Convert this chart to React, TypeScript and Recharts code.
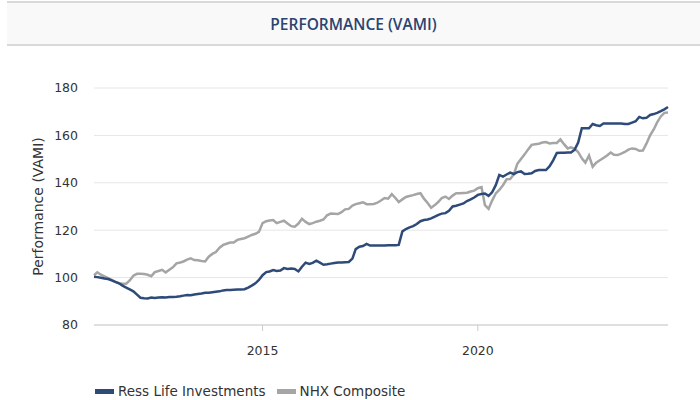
import { CartesianGrid, Line, LineChart, XAxis, YAxis } from "recharts";

// monthly closes, first point Feb 2011
const START_YEAR = 2011;
const START_MONTH = 1; // 0-based (Feb)

const ressLife = [
  // 2011 (Feb-Dec)
  100.4, 100.2, 99.9, 99.6, 99.4, 98.8, 98.2, 97.6, 96.6, 95.8, 95,
  // 2012
  94.2, 92.8, 91.5, 91.3, 91.2, 91.6, 91.4, 91.6, 91.7, 91.6, 91.8, 91.8,
  // 2013
  91.9, 92.1, 92.4, 92.7, 92.6, 92.9, 93.1, 93.3, 93.6, 93.6, 93.8, 94,
  // 2014
  94.2, 94.6, 94.8, 94.8, 94.9, 95, 95, 95.1, 95.8, 96.6, 97.6, 99,
  // 2015
  101, 102.3, 102.6, 103.2, 102.8, 103, 104, 103.6, 103.8, 103.6, 102.6, 104.6,
  // 2016
  106.3, 105.8, 106.2, 107.1, 106.3, 105.4, 105.6, 105.9, 106.2, 106.4, 106.4, 106.5,
  // 2017
  106.6, 108, 112, 113, 113.3, 114.2, 113.5, 113.5, 113.5, 113.5, 113.5, 113.6,
  // 2018
  113.6, 113.7, 113.8, 119.5, 120.5, 121.2, 121.7, 122.6, 123.8, 124.3, 124.5, 125,
  // 2019
  125.7, 126.5, 127, 127.2, 128.2, 130, 130.3, 130.8, 131.3, 132.3, 133, 133.8,
  // 2020
  134.9, 135.3, 135.5, 134.5, 136, 139, 143.3, 142.6, 143.5, 144.3, 143.7, 144.5,
  // 2021
  144.8, 143.7, 143.8, 144, 145, 145.4, 145.4, 145.4, 147, 149.5, 152.6, 152.7,
  // 2022
  152.7, 152.8, 152.8, 154, 157, 163, 163, 163, 164.8, 164.3, 164, 165,
  // 2023
  165, 165, 165, 165, 165, 164.8, 164.8, 165.4, 166, 167.8, 167.2, 167.4,
  // 2024 (Jan-Jun)
  168.6, 169, 169.5, 170.2, 171, 172,
];

const nhxComposite = [
  // 2011 (Feb-Dec)
  101, 102.2, 101.2, 100.5, 99.8, 99, 98.2, 97.6, 97.4, 97.4, 98.8,
  // 2012
  100.8, 101.6, 101.6, 101.5, 101.2, 100.6, 102.3, 102.8, 103.3, 102.2, 103.3, 104.3,
  // 2013
  106, 106.4, 106.8, 107.6, 108.1, 107.4, 107.3, 107, 106.8, 108.8, 110, 110.8,
  // 2014
  112.6, 113.8, 114.3, 114.8, 114.8, 115.9, 116.3, 116.6, 117.3, 118, 118.5, 119.3,
  // 2015
  123, 123.8, 124.1, 124.3, 123, 123.5, 124, 122.8, 121.7, 121.5, 122.8, 124.8,
  // 2016
  123.5, 122.6, 123, 123.6, 124, 124.5, 126.3, 127, 126.9, 126.8, 127.6, 128.8,
  // 2017
  129, 130.4, 131, 131.4, 131.8, 131, 131, 131.1, 131.6, 132.5, 133.6, 133.3,
  // 2018
  135.2, 133.6, 131.9, 133, 134, 134.4, 134.8, 135.3, 135.6, 133.3, 131.5, 129.5,
  // 2019
  130.6, 132, 133.6, 134.2, 133.2, 134.6, 135.6, 135.6, 135.7, 135.8, 136.3, 136.7,
  // 2020
  137.7, 138.2, 130.6, 129, 132.5, 135.5, 137, 139, 141.5, 141.6, 143.5, 148,
  // 2021
  150, 152, 154, 156, 156.3, 156.5, 157, 157.2, 156.6, 156.8, 156.8, 158.3,
  // 2022
  156.3, 154.5, 155, 154.3, 153, 150.3, 148.5, 151.5, 146.8, 148.5, 149.5, 150.5,
  // 2023
  151.5, 152.8, 151.8, 151.7, 152.3, 153, 154, 154.5, 154.3, 153.5, 153.6, 156.5,
  // 2024 (Jan-Jun)
  160, 162.5, 165.5, 168, 169.5, 169.7,
];

const yTicks = [80, 100, 120, 140, 160, 180];
const xTickYears = [2015, 2020];

const RESS = "#2e4a78";
const NHX = "#a5a5a5";

const data = ressLife.map((v, i) => ({
  t: Date.UTC(START_YEAR, START_MONTH + i, 1),
  ress: v,
  nhx: nhxComposite[i],
}));

const font = "'DejaVu Sans', Verdana, sans-serif";

export default function App() {
  return (
    <div
      style={{
        position: "absolute",
        left: 0,
        top: 0,
        width: 700,
        height: 400,
        background: "#fff",
        fontFamily: font,
      }}
    >
      <div
        style={{
          position: "absolute",
          left: 7,
          top: 1,
          width: 693,
          height: 41,
          background: "#f9f9f9",
          borderTop: "2px solid #d9d9d9",
          borderBottom: "2px solid #d9d9d9",
          display: "flex",
          alignItems: "center",
          justifyContent: "center",
          fontFamily: "'Open Sans', sans-serif",
          fontWeight: 600,
          fontSize: 15.5,
          color: "#2b4470",
        }}
      >
        PERFORMANCE (VAMI)
      </div>
      <div style={{ position: "absolute", left: 0, top: 0 }}>
        <LineChart
          width={700}
          height={400}
          data={data}
          margin={{ top: 88, right: 32, bottom: 45, left: 34 }}
        >
          <CartesianGrid vertical={false} stroke="#e6e6e6" />
          <XAxis
            dataKey="t"
            type="number"
            domain={["dataMin", "dataMax"]}
            ticks={xTickYears.map((y) => Date.UTC(y, 0, 1))}
            tickFormatter={(v) => String(new Date(v).getUTCFullYear())}
            height={30}
            stroke="#cccccc"
            tickSize={6}
            tickMargin={15}
            tick={{ fill: "#333", fontSize: 12.5, fontFamily: font }}
          />
          <YAxis
            domain={[80, 180]}
            ticks={yTicks}
            width={60}
            axisLine={false}
            tickLine={false}
            tickSize={0}
            tickMargin={16}
            tick={{ fill: "#333", fontSize: 12.5, fontFamily: font }}
            label={{
              value: "Performance (VAMI)",
              angle: -90,
              position: "insideLeft",
              offset: 0,
              dx: 4,
              fill: "#333",
              fontSize: 14,
              fontFamily: font,
              style: { textAnchor: "middle" },
            }}
          />
          <Line
            type="linear"
            dataKey="nhx"
            name="NHX Composite"
            stroke={NHX}
            strokeWidth={2.5}
            dot={false}
            isAnimationActive={false}
          />
          <Line
            type="linear"
            dataKey="ress"
            name="Ress Life Investments"
            stroke={RESS}
            strokeWidth={2.5}
            dot={false}
            isAnimationActive={false}
          />
        </LineChart>
      </div>
      <div
        style={{
          position: "absolute",
          left: 95,
          top: 383,
          display: "flex",
          alignItems: "center",
          fontSize: 13.5,
          color: "#333",
        }}
      >
        <span style={{ width: 19, height: 5, background: RESS, marginRight: 4 }} />
        <span style={{ marginRight: 11 }}>Ress Life Investments</span>
        <span style={{ width: 19, height: 5, background: NHX, marginRight: 4 }} />
        <span>NHX Composite</span>
      </div>
    </div>
  );
}
